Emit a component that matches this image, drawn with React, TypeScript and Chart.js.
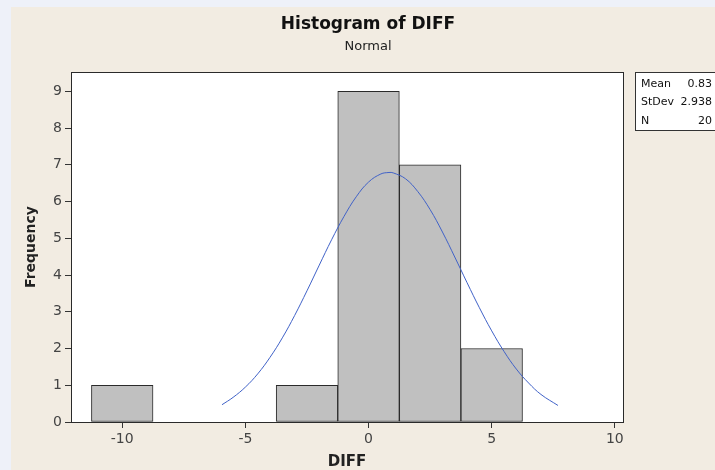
import React, { useEffect, useRef } from "react";
import { Chart, registerables } from "chart.js";

Chart.register(...registerables);

// Histogram bins (centers, bin width 2.5) and counts
const binCenters = [-10, -7.5, -5, -2.5, 0, 2.5, 5];
const binCounts = [1, 0, 0, 1, 9, 7, 2];

// Fitted normal curve points
const curveX = [-5.95, -5.5, -5, -4.5, -4, -3.5, -3, -2.5, -2, -1.5, -1, -0.5, 0, 0.5, 0.83, 1, 1.5, 2, 2.5, 3, 3.5, 4, 4.5, 5, 5.5, 6, 6.5, 7, 7.69];
const curveY = [0.47, 0.67, 0.95, 1.31, 1.76, 2.29, 2.9, 3.57, 4.27, 4.96, 5.59, 6.13, 6.53, 6.75, 6.79, 6.78, 6.62, 6.27, 5.78, 5.17, 4.49, 3.79, 3.11, 2.48, 1.92, 1.44, 1.06, 0.75, 0.45];

const xTicks = [-10, -5, 0, 5, 10];
const yTicks = [0, 1, 2, 3, 4, 5, 6, 7, 8, 9];

const statLabels = ["Mean", "StDev", "N"];
const statValues = ["0.83", "2.938", "20"];

const titleText = "Histogram of DIFF";
const subtitleText = "Normal";
const xTitleText = "DIFF";
const yTitleText = "Frequency";

const FONT = "'DejaVu Sans', Verdana, sans-serif";

const decorPlugin = {
  id: "decor",
  beforeDraw(chart: any) {
    const { ctx, chartArea } = chart;
    ctx.save();
    ctx.fillStyle = "#EEF1F9";
    ctx.fillRect(0, 0, chart.width, chart.height);
    ctx.fillStyle = "#F2ECE2";
    ctx.fillRect(11, 7, chart.width - 11, chart.height - 7);
    ctx.fillStyle = "#FFFFFF";
    ctx.fillRect(chartArea.left, chartArea.top, chartArea.right - chartArea.left, chartArea.bottom - chartArea.top);
    ctx.restore();
  },
  afterDraw(chart: any) {
    const { ctx, chartArea } = chart;
    ctx.save();
    // frame
    ctx.strokeStyle = "#2A2A2A";
    ctx.lineWidth = 1;
    ctx.strokeRect(
      Math.round(chartArea.left) + 0.5,
      Math.round(chartArea.top) + 0.5,
      Math.round(chartArea.right - chartArea.left),
      Math.round(chartArea.bottom - chartArea.top)
    );
    // titles
    ctx.fillStyle = "#111111";
    ctx.textAlign = "center";
    ctx.textBaseline = "middle";
    ctx.font = `bold 17px ${FONT}`;
    ctx.fillText(titleText, 368, 25);
    ctx.font = `13px ${FONT}`;
    ctx.fillStyle = "#222222";
    ctx.fillText(subtitleText, 368, 47);
    // axis titles
    ctx.fillStyle = "#222222";
    ctx.font = `bold 15px ${FONT}`;
    ctx.fillText(xTitleText, (chartArea.left + chartArea.right) / 2, 462);
    ctx.save();
    ctx.translate(31, (chartArea.top + chartArea.bottom) / 2);
    ctx.rotate(-Math.PI / 2);
    ctx.font = `bold 14px ${FONT}`;
    ctx.fillText(yTitleText, 0, 0);
    ctx.restore();
    // stats box
    ctx.fillStyle = "#FFFFFF";
    ctx.fillRect(635.5, 72.5, 95, 58);
    ctx.strokeStyle = "#333333";
    ctx.strokeRect(635.5, 72.5, 95, 58);
    ctx.font = `11px ${FONT}`;
    ctx.fillStyle = "#111111";
    const rows = [84, 102.5, 121];
    statLabels.forEach((lab, i) => {
      ctx.textAlign = "left";
      ctx.fillText(lab, 641, rows[i]);
      ctx.textAlign = "right";
      ctx.fillText(statValues[i], 712, rows[i]);
    });
    ctx.restore();
  },
};

export default function App() {
  const canvasRef = useRef<HTMLCanvasElement | null>(null);

  useEffect(() => {
    if (!canvasRef.current) return;
    const barData = binCenters.map((x, i) => ({ x, y: binCounts[i] > 0 ? binCounts[i] : null }));
    const lineData = curveX.map((x, i) => ({ x, y: curveY[i] }));

    const chart = new Chart(canvasRef.current, {
      type: "bar",
      data: {
        datasets: [
          {
            type: "line",
            data: lineData,
            borderColor: "#4062C8",
            borderWidth: 1,
            pointRadius: 0,
            tension: 0.4,
            fill: false,
          } as any,
          {
            type: "bar",
            data: barData,
            backgroundColor: "#C0C0C0",
            borderColor: "#2A2A2A",
            borderWidth: 1,
            borderSkipped: false,
            barPercentage: 1,
            categoryPercentage: 1,
          } as any,
        ],
      },
      options: {
        animation: false,
        responsive: false,
        devicePixelRatio: 1,
        layout: { padding: { top: 72, right: 92, left: 0, bottom: 0 } },
        plugins: {
          legend: { display: false },
          tooltip: { enabled: false },
          title: { display: false },
        },
        scales: {
          x: {
            type: "linear",
            min: -12.08,
            max: 10.33,
            offset: false,
            afterBuildTicks: (s: any) => {
              s.ticks = xTicks.map((v) => ({ value: v }));
            },
            afterFit: (s: any) => {
              s.height = 48;
            },
            grid: { drawOnChartArea: false, drawTicks: true, tickLength: 6, color: "#333333", offset: false },
            border: { display: true, color: "#2A2A2A" },
            ticks: {
              font: { family: FONT, size: 14 },
              color: "#444444",
              padding: 3,
              maxRotation: 0,
              autoSkip: false,
            },
          },
          y: {
            type: "linear",
            min: 0,
            max: 9.525,
            afterBuildTicks: (s: any) => {
              s.ticks = yTicks.map((v) => ({ value: v }));
            },
            afterFit: (s: any) => {
              s.width = 71;
            },
            grid: { drawOnChartArea: false, drawTicks: true, tickLength: 6, color: "#333333" },
            border: { display: true, color: "#2A2A2A" },
            ticks: {
              font: { family: FONT, size: 14 },
              color: "#444444",
              padding: 3,
              autoSkip: false,
            },
          },
        },
      } as any,
      plugins: [decorPlugin],
    });
    return () => chart.destroy();
  }, []);

  return (
    <div style={{ position: "absolute", left: 0, top: 0, width: 715, height: 470 }}>
      <canvas ref={canvasRef} width={715} height={470} style={{ display: "block", width: 715, height: 470 }} />
    </div>
  );
}
